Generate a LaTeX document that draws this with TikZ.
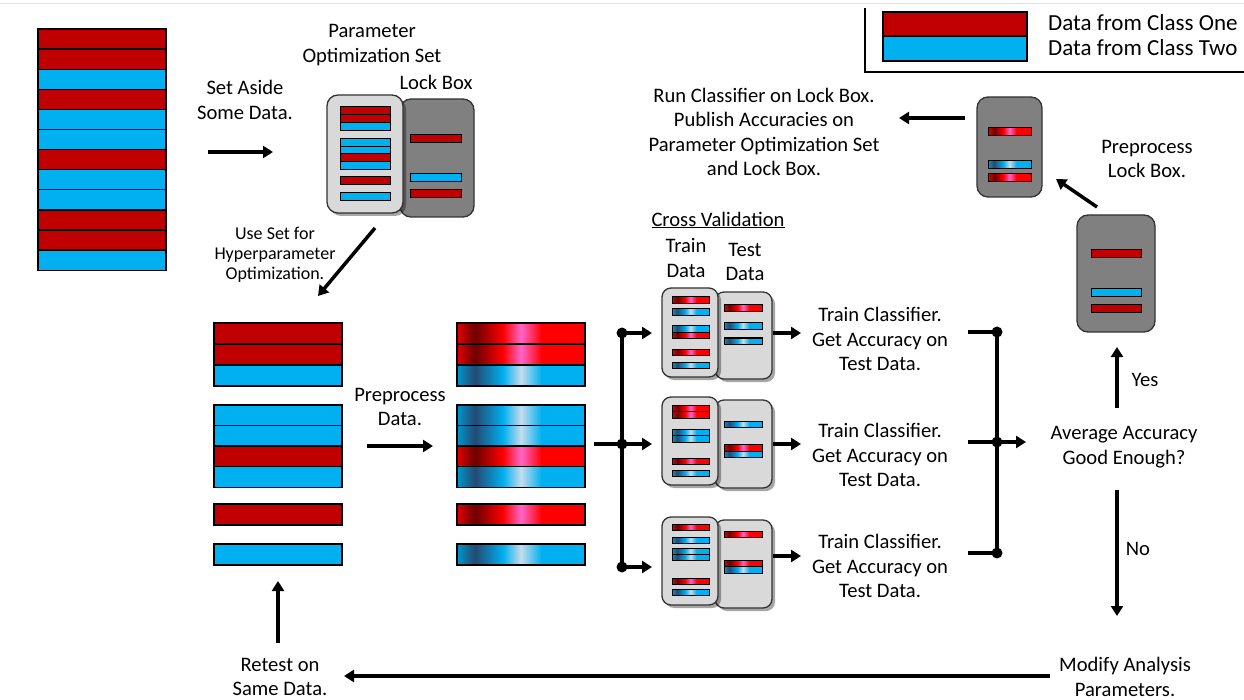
\documentclass[tikz,border=0pt]{standalone}
\usepackage{fontspec}
\setmainfont{Carlito}
\usetikzlibrary{arrows.meta,shadows}

\definecolor{cone}{HTML}{C00000}
\definecolor{ctwo}{HTML}{00B0F0}
\definecolor{rdark}{HTML}{6E0000}
\definecolor{rbright}{HTML}{FF0000}
\definecolor{rpink}{HTML}{FF66CC}
\definecolor{bdark}{HTML}{244A72}
\definecolor{blight}{HTML}{C6DCEC}
\definecolor{boxlight}{HTML}{D9D9D9}
\definecolor{boxdark}{HTML}{808080}
\definecolor{rule}{HTML}{E2E2E2}

% preprocessed data: a dark band, then a light band across each bar
\pgfdeclarehorizontalshading{oneshade}{100bp}{color(0bp)=(rbright!88!black); color(25bp)=(rbright!88!black); color(32bp)=(rdark); color(43bp)=(rbright); color(50bp)=(rpink); color(58bp)=(rbright); color(100bp)=(rbright)}
\pgfdeclarehorizontalshading{twoshade}{100bp}{color(0bp)=(ctwo!85!black); color(25bp)=(ctwo!85!black); color(32bp)=(bdark); color(43bp)=(ctwo); color(50bp)=(blight); color(58bp)=(ctwo); color(100bp)=(ctwo)}

\newcommand\bodysize{\fontsize{20.6}{24.5}\selectfont}
\newcommand\smallsize{\fontsize{18}{20}\selectfont}
\newcommand\legendsize{\fontsize{23}{25}\selectfont}

\tikzset{
  lbl/.style={align=center, inner sep=0pt, font=\bodysize},
  arr/.style={line width=3.5pt, -{Triangle[length=10pt,width=12pt]}},
  wire/.style={line width=3.5pt},
  dot/.style={circle, fill=black, inner sep=0pt, minimum size=11pt},
  bigbar/.style={draw=black, line width=1.3pt},
  minibar/.style={draw=black, line width=1pt},
  lightbox/.style={draw=black!80, line width=1.3pt, fill=boxlight, rounded corners=9pt, inner sep=0pt},
  darkbox/.style={draw=black!80, line width=1.3pt, fill=boxdark, rounded corners=11pt, inner sep=0pt},
  shadowed/.style={drop shadow={shadow xshift=3pt, shadow yshift=-3pt, opacity=0.35, fill=black}},
}

\begin{document}
\begin{tikzpicture}[x=1pt,y=-1pt]
\useasboundingbox (0,0) rectangle (1244,700);
\draw[rule, line width=0.8pt] (0,3) -- (1244,3);

% ---------- legend ----------
\draw[line width=2.8pt] (865,8) -- (865,72) -- (1244,72);
\draw[bigbar, fill=cone] (883,12) rectangle (1027,36);
\draw[bigbar, fill=ctwo] (883,36) rectangle (1027,61);
\node[anchor=west, inner sep=0pt, font=\legendsize] (legone) at (1048,23) {Data from Class One};
\node[anchor=west, inner sep=0pt, font=\legendsize] (legtwo) at (1048,48) {Data from Class Two};

% ---------- full data set ----------
\foreach \c [count=\i from 0] in {cone,cone,ctwo,cone,ctwo,ctwo,cone,ctwo,ctwo,cone,cone,ctwo}
  \draw[bigbar, fill=\c] (38,{29+20.1*\i}) rectangle ++(128,20.1);

\node[lbl] (aside) at (245,100) {Set Aside\\Some Data.};
\coordinate (asideA) at (208,152);
\coordinate (asideB) at (273,152);
\draw[arr] (asideA) -- (asideB);

% ---------- optimization set and lock box ----------
\node[lbl] (optlbl) at (372,45) {Parameter\\Optimization Set};
\node[lbl] (locklbl) at (436,82) {Lock Box};
\node[darkbox, minimum width=74pt, minimum height=118pt] (lockbox) at (437,158) {};
\foreach \y/\c in {135/cone,174/ctwo,190/cone}
  \draw[minibar, fill=\c] (410,\y) rectangle ++(51,8);
\node[lightbox, rounded corners=11pt, shadowed, minimum width=76pt, minimum height=118pt] (optbox) at (365,154) {};
\foreach \y/\c in {107/cone,115/cone,123/ctwo,139/ctwo,146.5/ctwo,154/cone,162/ctwo,177/cone,193/ctwo}
  \draw[minibar, fill=\c] (340,\y) rectangle ++(50,7.7);

\node[lbl, font=\smallsize] (uselbl) at (275,255) {Use Set for\\Hyperparameter\\Optimization.};
\coordinate (useA) at (375,228);
\coordinate (useB) at (318,296);
\draw[arr] (useA) -- (useB);

% ---------- optimization set, raw ----------
\foreach \y/\c in {323/cone,344/cone,365/ctwo,405/ctwo,425.5/ctwo,446/cone,466.5/ctwo,504/cone,544/ctwo}
  \draw[bigbar, fill=\c] (214,\y) rectangle ++(128,21);

\node[lbl] (prelbl) at (400,407) {Preprocess\\Data.};
\coordinate (preA) at (367,446);
\coordinate (preB) at (433,446);
\draw[arr] (preA) -- (preB);

% ---------- optimization set, preprocessed ----------
\foreach \y/\s in {323/oneshade,344/oneshade,365/twoshade,405/twoshade,425.5/twoshade,446/oneshade,466.5/twoshade,504/oneshade,544/twoshade}
  \draw[bigbar, shading=\s] (457,\y) rectangle ++(128,21);

% ---------- split into folds ----------
\coordinate (splitin) at (594,444);
\node[dot] (s1) at (622,333) {};
\node[dot] (s2) at (622,444) {};
\node[dot] (s3) at (622,567) {};
\draw[wire] (splitin) -- (s2.center);
\draw[wire] (s1.center) -- (s3.center);
\coordinate (f1) at (652,333);
\coordinate (f2) at (652,444);
\coordinate (f3) at (652,567);
\draw[arr] (s1.center) -- (f1);
\draw[arr] (s2.center) -- (f2);
\draw[arr] (s3.center) -- (f3);

% ---------- cross validation ----------
\node[lbl] (cvlbl) at (718,220) {\underline{Cross Validation}};
\node[lbl] (trainlbl) at (686,258) {Train\\Data};
\node[lbl] (testlbl) at (745,262) {Test\\Data};

% fold 1
\node[lightbox, shadowed, minimum width=57pt, minimum height=87pt] (te1) at (743.5,335.5) {};
\foreach \y/\s in {305/oneshade,323/twoshade,338/twoshade}
  \draw[minibar, shading=\s] (724,\y) rectangle ++(38,6.5);
\node[lightbox, shadowed, minimum width=56pt, minimum height=89pt] (tr1) at (690,332.5) {};
\foreach \y/\s in {297/oneshade,309/twoshade,326/twoshade,332.3/oneshade,349/oneshade,362/twoshade}
  \draw[minibar, shading=\s] (672,\y) rectangle ++(37,6.3);

% fold 2
\node[lightbox, shadowed, minimum width=57pt, minimum height=88pt] (te2) at (743.5,444) {};
\foreach \y/\s in {421/twoshade,444.5/oneshade,451/twoshade}
  \draw[minibar, shading=\s] (724,\y) rectangle ++(38,6.5);
\node[lightbox, shadowed, minimum width=56pt, minimum height=88pt] (tr2) at (690,441) {};
\foreach \y/\s in {405/oneshade,411.5/oneshade,429/twoshade,435.5/twoshade,458/oneshade,470/twoshade}
  \draw[minibar, shading=\s] (672,\y) rectangle ++(37,6.5);

% fold 3
\node[lightbox, shadowed, minimum width=57pt, minimum height=88pt] (te3) at (743.5,564) {};
\foreach \y/\s in {531/oneshade,560/oneshade,566.5/twoshade}
  \draw[minibar, shading=\s] (724,\y) rectangle ++(38,6.5);
\node[lightbox, shadowed, minimum width=56pt, minimum height=88pt] (tr3) at (690,561) {};
\foreach \y/\s in {524/oneshade,537/twoshade,548/twoshade,554.2/twoshade,578/oneshade,589/twoshade}
  \draw[minibar, shading=\s] (672,\y) rectangle ++(37,6.2);

% ---------- per-fold results ----------
\coordinate (r1A) at (773,333);
\coordinate (r1B) at (801,333);
\coordinate (r2A) at (773,444);
\coordinate (r2B) at (801,444);
\coordinate (r3A) at (773,556);
\coordinate (r3B) at (801,556);
\draw[arr] (r1A) -- (r1B);
\draw[arr] (r2A) -- (r2B);
\draw[arr] (r3A) -- (r3B);
\node[lbl] (res1) at (880,339) {Train Classifier.\\Get Accuracy on\\Test Data.};
\node[lbl] (res2) at (880,455) {Train Classifier.\\Get Accuracy on\\Test Data.};
\node[lbl] (res3) at (880,566) {Train Classifier.\\Get Accuracy on\\Test Data.};

% ---------- collect folds ----------
\coordinate (c1in) at (968,332);
\coordinate (c2in) at (968,442);
\coordinate (c3in) at (968,553);
\node[dot] (c1) at (997,332) {};
\node[dot] (c2) at (997,442) {};
\node[dot] (c3) at (997,553) {};
\draw[wire] (c1in) -- (c1.center);
\draw[wire] (c2in) -- (c2.center);
\draw[wire] (c3in) -- (c3.center);
\draw[wire] (c1.center) -- (c3.center);
\coordinate (avgin) at (1026,442);
\draw[arr] (c2.center) -- (avgin);

\node[lbl] (avg) at (1124,447) {Average Accuracy\\Good Enough?};

% yes branch
\coordinate (yesA) at (1117,408);
\coordinate (yesB) at (1117,347);
\draw[arr] (yesA) -- (yesB);
\node[lbl] (yes) at (1145,380) {Yes};

% no branch
\coordinate (noA) at (1117,490);
\coordinate (noB) at (1117,616);
\draw[arr] (noA) -- (noB);
\node[lbl] (no) at (1138,549) {No};

\node[lbl] (modify) at (1125,677) {Modify Analysis\\Parameters.};
\coordinate (backA) at (1050,676);
\coordinate (backB) at (344,676);
\draw[arr] (backA) -- (backB);
\node[lbl] (retest) at (280,677) {Retest on\\Same Data.};
\coordinate (upA) at (278,643);
\coordinate (upB) at (278,581);
\draw[arr] (upA) -- (upB);

% ---------- lock box, raw and preprocessed ----------
\node[darkbox, minimum width=78pt, minimum height=117pt] (lockraw) at (1116,273.5) {};
\foreach \y/\c in {250/cone,289/ctwo,305/cone}
  \draw[minibar, fill=\c] (1091,\y) rectangle ++(50,8);

\node[darkbox, minimum width=65pt, minimum height=100pt] (lockpre) at (1009.5,147) {};
\foreach \y/\s in {128/oneshade,161/twoshade,174/oneshade}
  \draw[minibar, shading=\s] (988,\y) rectangle ++(43,7.5);

\coordinate (lpA) at (1097,207);
\coordinate (lpB) at (1056,179);
\draw[arr] (lpA) -- (lpB);
\node[lbl] (lplbl) at (1147,159) {Preprocess\\Lock Box.};

\coordinate (runA) at (965,118);
\coordinate (runB) at (899,118);
\draw[arr] (runA) -- (runB);
\node[lbl] (runlbl) at (764,132) {Run Classifier on Lock Box.\\Publish Accuracies on\\Parameter Optimization Set\\and Lock Box.};
\end{tikzpicture}
\end{document}
